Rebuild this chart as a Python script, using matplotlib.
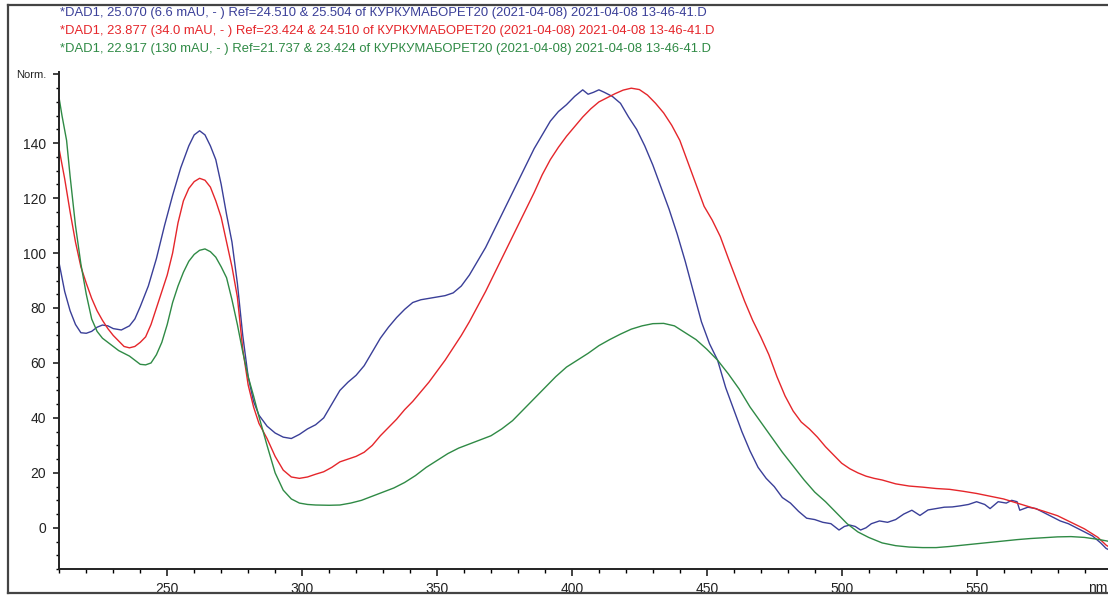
import matplotlib
matplotlib.use('Agg')
import matplotlib.pyplot as plt
from matplotlib.lines import Line2D
from matplotlib.ticker import MultipleLocator, FixedLocator

plt.rcParams['font.family'] = ['Liberation Sans Narrow', 'Liberation Sans', 'DejaVu Sans']

# --- data (wavelength nm, normalised absorbance) ---
blue_wl = [210, 212, 214, 216, 218, 220, 222, 224, 226, 228, 230, 233, 236, 238, 240, 243, 246, 249,
           252, 255, 258, 260, 262, 264, 266, 268, 270, 272, 274, 276, 278, 280, 282, 284, 287, 290,
           293, 296, 299, 302, 305, 308, 311, 314, 317, 320, 323, 326, 329, 332, 335, 338, 341, 344,
           347, 350, 353, 356, 359, 362, 365, 368, 371, 374, 377, 380, 383, 386, 389, 392, 395, 398,
           401, 404, 406, 408, 410, 412, 415, 418, 421, 424, 427, 430, 433, 436, 439, 442, 445, 448,
           451, 454, 457, 460, 463, 466, 469, 472, 475, 478, 481, 484, 487, 490, 493, 496, 499, 501,
           503, 505, 507, 509, 511, 514, 517, 520, 523, 526, 529, 532, 535, 538, 541, 544, 547, 550,
           553, 555, 558, 561, 563, 565, 566, 569, 572, 575, 578, 581, 584, 587, 590, 593, 596, 598, 600]
blue_val = [96, 86, 79, 74, 71, 70.8, 71.5, 73, 73.8, 73.5, 72.5, 72, 73.5, 76, 80.5, 88, 98, 110,
            121, 131, 139, 143, 144.5, 143, 139, 134, 125, 114, 104, 89, 70, 55, 46, 41, 37, 34.5,
            33, 32.5, 34, 36, 37.5, 40, 45, 50, 53, 55.5, 59, 64, 69, 73, 76.5, 79.5, 82, 83,
            83.5, 84, 84.5, 85.5, 88, 92, 97, 102, 108, 114, 120, 126, 132, 138, 143, 148, 151.5, 154,
            157, 159.4, 157.8, 158.5, 159.4, 158.5, 157, 154.5, 149.5, 145, 139, 132, 124, 116, 107, 97, 86, 75,
            67, 61, 51, 43, 35, 28, 22, 18, 15, 11, 9, 6, 3.5, 3, 2, 1.5, -0.8, 0.5,
            1, 0.5, -0.8, 0, 1.5, 2.5, 2, 3, 5, 6.4, 4.5, 6.5, 7, 7.5, 7.6, 8, 8.5, 9.5,
            8.5, 7, 9.5, 9, 10, 9.5, 6.4, 7.5, 7, 5.5, 4, 2.5, 1.5, 0, -1.5, -3, -5.5, -7.5, -8.5]

red_wl = [210, 212, 214, 216, 218, 220, 222, 224, 226, 228, 230, 232, 234, 236, 238, 240, 242, 244,
          246, 248, 250, 252, 254, 256, 258, 260, 262, 264, 266, 268, 270, 272, 274, 276, 278, 280,
          282, 284, 287, 290, 293, 296, 299, 302, 305, 308, 311, 314, 317, 320, 323, 326, 329, 332,
          335, 338, 341, 344, 347, 350, 353, 356, 359, 362, 365, 368, 371, 374, 377, 380, 383, 386,
          389, 392, 395, 398, 401, 404, 407, 410, 413, 416, 419, 422, 425, 428, 431, 434, 437, 440,
          443, 446, 449, 452, 455, 458, 461, 464, 467, 470, 473, 476, 479, 482, 485, 488, 491, 494,
          497, 500, 503, 506, 509, 512, 515, 520, 525, 530, 535, 540, 545, 550, 555, 560, 565, 570,
          575, 580, 585, 590, 595, 598, 600]
red_val = [137.5, 127, 115, 104, 95, 89, 83.5, 79, 75.5, 72.5, 70, 68, 66, 65.5, 66, 67.5, 69.5, 74,
           80, 86, 92, 100, 111, 119, 123.5, 126, 127.2, 126.5, 124, 119, 113, 104, 95, 84, 65, 52,
           44, 38, 32.5, 26, 21, 18.5, 18, 18.5, 19.5, 20.4, 22, 24, 25, 26, 27.5, 30, 33.5, 36.5,
           39.5, 43, 46, 49.5, 53, 57, 61, 65.5, 70, 75, 80.5, 86, 92, 98, 104, 110, 116, 122,
           128.5, 134, 138.5, 142.5, 146, 149.5, 152.5, 155, 156.5, 158, 159.3, 160, 159.5, 157.5, 154.5, 151, 146.5, 141,
           133, 125, 117, 112, 106, 98, 90.2, 82.5, 75.5, 69.5, 63, 55, 48, 42.5, 38.5, 36, 33, 29.5,
           26.5, 23.5, 21.5, 20, 18.8, 18, 17.4, 16, 15.2, 14.8, 14.3, 14, 13.3, 12.5, 11.5, 10.5, 9, 7.5,
           6, 4.4, 2, -0.4, -3.5, -6.3, -7.5]

green_wl = [210, 211, 212.7, 214, 216, 218, 220, 222, 224, 226, 228, 230, 232, 234, 236, 238, 240, 242,
            244, 246, 248, 250, 252, 254, 256, 258, 260, 262, 264, 266, 268, 270, 272, 274, 276, 278,
            280, 282, 284, 287, 290, 293, 296, 299, 302, 305, 310, 314, 318, 322, 326, 330, 334, 338,
            342, 346, 350, 354, 358, 362, 366, 370, 374, 378, 382, 386, 390, 394, 398, 402, 406, 410,
            414, 418, 422, 426, 430, 434, 438, 442, 446, 450, 454, 458, 462, 466, 470, 474, 478, 482,
            486, 490, 494, 498, 502, 506, 510, 515, 520, 525, 530, 535, 540, 545, 550, 555, 560, 565,
            570, 575, 580, 585, 590, 595, 600]
green_val = [156, 150, 141, 128, 110, 96, 85, 76, 71.5, 69, 67.5, 66, 64.5, 63.5, 62.5, 61, 59.5, 59.3,
             60, 63, 67.5, 74, 82, 88, 93, 97, 99.5, 101, 101.5, 100.5, 98.5, 95, 91, 83, 74, 64,
             55, 48, 40.5, 30, 20, 13.7, 10.5, 9, 8.5, 8.3, 8.2, 8.3, 9, 10, 11.5, 13, 14.5, 16.5,
             19, 22, 24.5, 27, 29, 30.5, 32, 33.5, 36, 39, 43, 47, 51, 55, 58.5, 61, 63.5, 66.3,
             68.5, 70.5, 72.3, 73.5, 74.3, 74.4, 73.5, 71, 68.5, 65, 61, 56, 50.5, 44, 38.5, 33, 27.5, 22.5,
             17.5, 13, 9.5, 5.5, 1.5, -1.5, -3.5, -5.5, -6.5, -7, -7.2, -7.2, -6.8, -6.3, -5.8, -5.3, -4.8, -4.3,
             -3.9, -3.6, -3.3, -3.2, -3.5, -4.2, -5.1]

titles = [
    '*DAD1, 25.070 (6.6 mAU, - ) Ref=24.510 & 25.504 of КУРКУМАБОРЕТ20 (2021-04-08) 2021-04-08 13-46-41.D',
    '*DAD1, 23.877 (34.0 mAU, - ) Ref=23.424 & 24.510 of КУРКУМАБОРЕТ20 (2021-04-08) 2021-04-08 13-46-41.D',
    '*DAD1, 22.917 (130 mAU, - ) Ref=21.737 & 23.424 of КУРКУМАБОРЕТ20 (2021-04-08) 2021-04-08 13-46-41.D',
]
x_major = [250, 300, 350, 400, 450, 500, 550, 600]
x_labels = ['250', '300', '350', '400', '450', '500', '550', '']
y_major = [0, 20, 40, 60, 80, 100, 120, 140, 165]
y_labels = ['0', '20', '40', '60', '80', '100', '120', '140', 'Norm.']

c_blue = '#3a3f98'
c_red = '#e5262b'
c_green = '#2f8a45'

W, H = 1108, 595
fig = plt.figure(figsize=(W / 100, H / 100), dpi=100)
fig.patch.set_facecolor('white')

ax = fig.add_axes([59.3 / W, 1 - 569.3 / H, (1111.5 - 59.3) / W, (569.3 - 71.7) / H])
ax.plot(blue_wl, blue_val, color=c_blue, lw=1.0)
ax.plot(red_wl, red_val, color=c_red, lw=1.0)
ax.plot(green_wl, green_val, color=c_green, lw=1.0)

ax.set_xlim(210, 600)
ax.set_ylim(-15.1, 166)
for s in ['top', 'right']:
    ax.spines[s].set_visible(False)
for s in ['left', 'bottom']:
    ax.spines[s].set_linewidth(1.4)
    ax.spines[s].set_color('#222222')

ax.xaxis.set_major_locator(FixedLocator(x_major))
ax.set_xticklabels(x_labels)
ax.xaxis.set_minor_locator(MultipleLocator(10))
ax.yaxis.set_major_locator(FixedLocator(y_major))
ax.set_yticklabels(y_labels)
ax.yaxis.set_minor_locator(MultipleLocator(5))

ax.tick_params(axis='x', which='major', length=5, width=1.2, pad=4, labelsize=10, colors='#222222')
ax.tick_params(axis='x', which='minor', length=3, width=1.0)
ax.tick_params(axis='y', which='major', length=4.5, width=1.2, pad=5, labelsize=10, colors='#222222')
ax.tick_params(axis='y', which='minor', length=2.5, width=1.0)
ax.get_yticklabels()[-1].set_fontsize(8)

# unit label of the x axis sits at the right edge, where the 600 label would be
fig.text(1107 / W, 1 - 588 / H, 'nm', fontsize=10, color='#222222', ha='right', va='center')

for txt, col, yy in zip(titles, [c_blue, c_red, c_green], [13, 31, 49]):
    fig.text(60 / W, 1 - yy / H, txt, color=col, fontsize=9.4, ha='left', va='center')

# outer frame of the exported picture
fig.add_artist(Line2D([8 / W, 8 / W], [1 - 5 / H, 1 - 593 / H], color='#444444', lw=1.6))
fig.add_artist(Line2D([8 / W, 1.0], [1 - 5 / H, 1 - 5 / H], color='#444444', lw=1.6))
fig.add_artist(Line2D([8 / W, 1.0], [1 - 593 / H, 1 - 593 / H], color='#444444', lw=1.6))

fig.savefig('out.png', dpi=100)
